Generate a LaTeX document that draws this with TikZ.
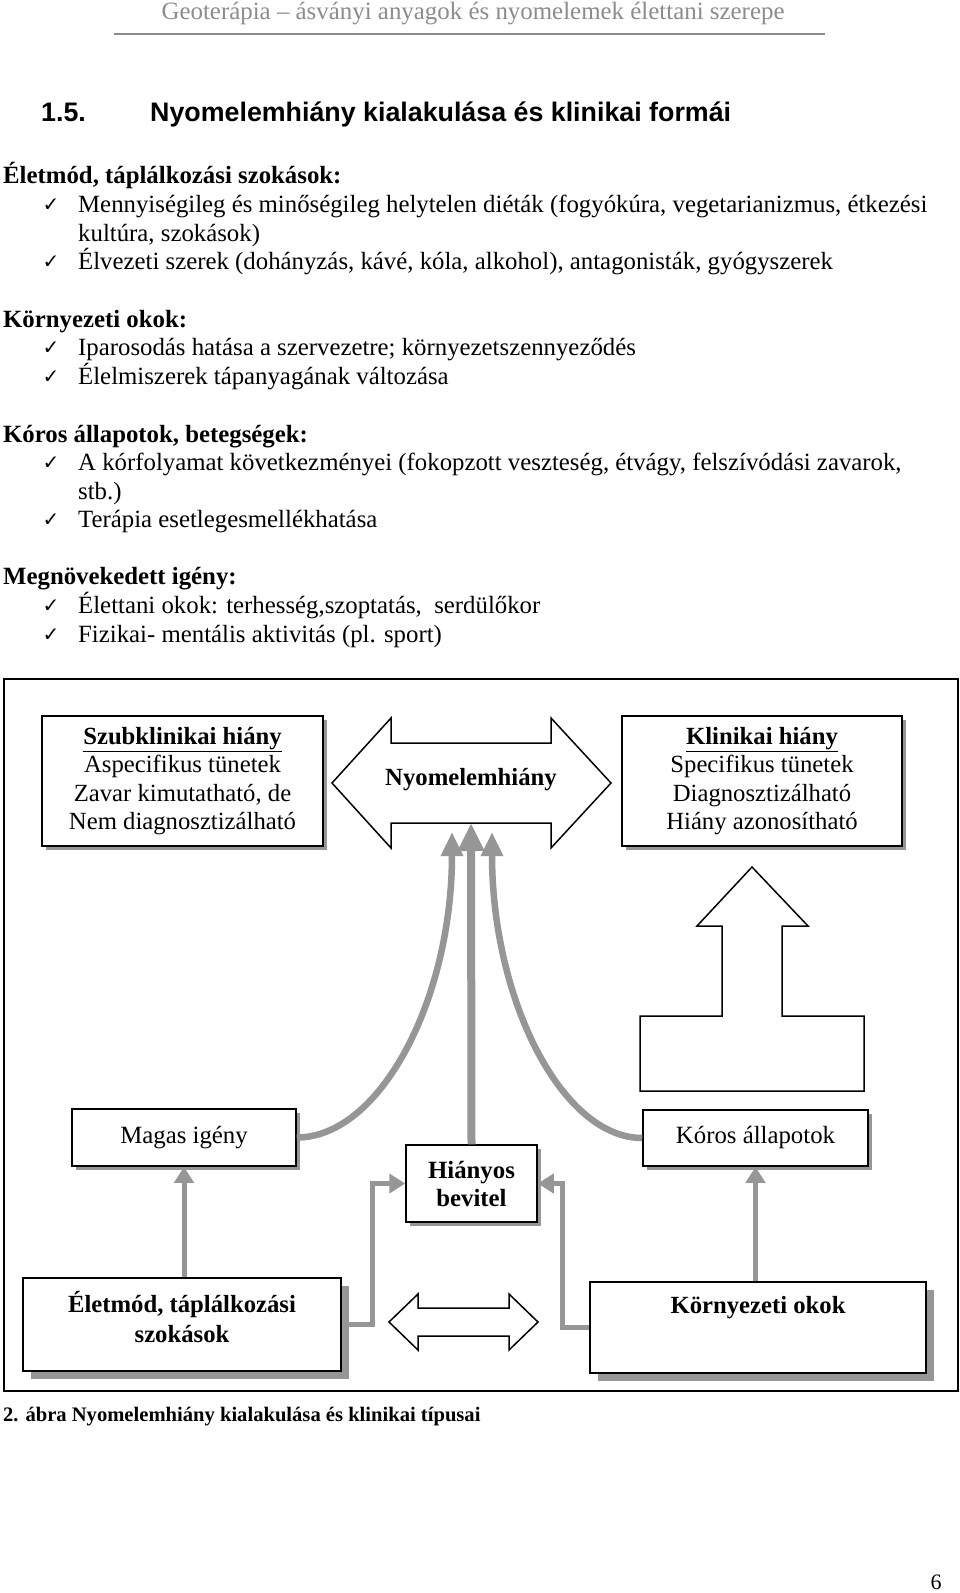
\documentclass[tikz,border=0pt]{standalone}
\usepackage{fontspec}
\setmainfont{Liberation Serif}
\newfontfamily\headfont{Liberation Sans}
\newfontfamily\symfont{DejaVu Sans}
\usepackage{tikz}
\usetikzlibrary{positioning}
\usetikzlibrary{arrows.meta}
\usetikzlibrary{shadows}
\definecolor{linegray}{RGB}{150,150,150}
\definecolor{headgray}{RGB}{140,140,140}

\begin{document}
\begin{tikzpicture}[ x = 1pt, y = -1pt
                     , align = center
                     , font = \fontsize{24.8}{28.5}\selectfont
                     , txt/.style = { anchor = base west, inner sep = 0pt, align = left }
                     , bold/.style = { txt, font = \bfseries\fontsize{24.8}{28.5}\selectfont }
                     , chk/.style = { anchor = base, inner sep = 0pt
                                    , font = \symfont\fontsize{20}{20}\selectfont }
                     ]

  \useasboundingbox (0,0) rectangle (960,1593);
  \fill[white] (0,0) rectangle (960,1593);

  %%
  %% Page text
  %%
  \node (hdr) [inner sep = 0pt, text = headgray, font = \fontsize{24.9}{26}\selectfont]
        at (473,14) {Geoterápia – ásványi anyagok és nyomelemek élettani szerepe};
  \draw[headgray, line width = 2pt] (114,33.5) -- (825,33.5);

  \node (secnum) [txt, font = \headfont\bfseries\fontsize{26.8}{30}\selectfont] at (41,121) {1.5.};
  \node (sectitle) [txt, font = \headfont\bfseries\fontsize{26.8}{30}\selectfont]
        at (150,121) {Nyomelemhiány kialakulása és klinikai formái};

  \node (life) [bold] at (3,183) {Életmód, táplálkozási szokások:};
  \node (lifea) [chk] at (51,211) {✓};
  \node (lifeatxt) [txt] at (78,241) {Mennyiségileg és minőségileg helytelen diéták (fogyókúra, vegetarianizmus, étkezési\\kultúra, szokások)};
  \node (lifeb) [chk] at (51,268) {✓};
  \node (lifebtxt) [txt] at (78,269) {Élvezeti szerek (dohányzás, kávé, kóla, alkohol), antagonisták, gyógyszerek};

  \node (env) [bold] at (3,327) {Környezeti okok:};
  \node (enva) [chk] at (51,354) {✓};
  \node (envatxt) [txt] at (78,355) {Iparosodás hatása a szervezetre; környezetszennyeződés};
  \node (envb) [chk] at (51,383) {✓};
  \node (envbtxt) [txt] at (78,384) {Élelmiszerek tápanyagának változása};

  \node (ill) [bold] at (3,442) {Kóros állapotok, betegségek:};
  \node (illa) [chk] at (51,469) {✓};
  \node (illatxt) [txt] at (78,499) {A kórfolyamat következményei (fokopzott veszteség, étvágy, felszívódási zavarok,\\stb.)};
  \node (illb) [chk] at (51,526) {✓};
  \node (illbtxt) [txt] at (78,527) {Terápia esetlegesmellékhatása};

  \node (need) [bold] at (3,584) {Megnövekedett igény:};
  \node (needa) [chk] at (51,612) {✓};
  \node (needatxt) [txt] at (78,613) {Élettani okok: terhesség,szoptatás,\ \ serdülőkor};
  \node (needb) [chk] at (51,641) {✓};
  \node (needbtxt) [txt] at (78,642) {Fizikai- mentális aktivitás (pl. sport)};

  %%
  %% Diagram
  %%
  \tikzset{ box/.style = { draw, line width = 1.5pt, fill = white, inner sep = 0pt
                         , drop shadow={shadow xshift=4pt,shadow yshift=-4pt,fill=linegray,opacity=1} }
          , bigbox/.style = { draw, line width = 1.5pt, fill = white, inner sep = 0pt
                            , drop shadow={shadow xshift=8pt,shadow yshift=-8pt,fill=linegray,opacity=1} }
          , hollow/.style = { draw, line width = 1.5pt, fill = white, line join = miter }
          , conn/.style = { draw = linegray, line width = 5pt
                          , -{Triangle[width = 19pt, length = 16pt]} }
          , curveconn/.style = { draw = linegray, line width = 6.5pt
                               , -{Triangle[width = 21pt, length = 24pt]} }
          , mainconn/.style = { draw = linegray, line width = 8pt
                              , -{Triangle[width = 25pt, length = 28pt]} }
          }

  \draw[line width = 1.5pt] (4,679) rectangle (958,1391);

  % hollow arrows
  \draw[hollow] (332,783) -- (391,718) -- (391,743) -- (551,743) -- (551,718) -- (611,783)
                -- (551,848) -- (551,823) -- (391,823) -- (391,848) -- cycle;
  \draw[hollow] (752,867) -- (808,926) -- (782,926) -- (782,1016) -- (864,1016) -- (864,1091)
                -- (640,1091) -- (640,1016) -- (722,1016) -- (722,926) -- (697,926) -- cycle;
  \draw[hollow] (389,1322) -- (418,1294) -- (418,1308) -- (509,1308) -- (509,1294) -- (538,1322)
                -- (509,1350) -- (509,1336) -- (418,1336) -- (418,1350) -- cycle;

  \node (nyom) [font = \bfseries\fontsize{24.7}{28.5}\selectfont] at (471,780) {Nyomelemhiány};
  \coordinate (nyoml) at (452,832);
  \coordinate (nyomc) at (471,823);
  \coordinate (nyomr) at (492,832);

  \node (sub) [box, minimum width = 281pt, minimum height = 130pt,
               font = \fontsize{24.7}{28.3}\selectfont] at (182.5,781)
        {\textbf{\underline{Szubklinikai hiány}}\\Aspecifikus tünetek\\Zavar kimutatható, de\\Nem diagnosztizálható};
  \node (klin) [box, minimum width = 280pt, minimum height = 130pt,
                font = \fontsize{24.7}{28.3}\selectfont] at (762,781)
        {\textbf{\underline{Klinikai hiány}}\\Specifikus tünetek\\Diagnosztizálható\\Hiány azonosítható};
  \node (magas) [box, minimum width = 224pt, minimum height = 57pt,
                 font = \fontsize{24.8}{28}\selectfont] at (184,1137.5) {Magas igény};
  \node (hianyos) [box, minimum width = 131pt, minimum height = 77pt,
                   font = \bfseries\fontsize{24.8}{28}\selectfont] at (471.5,1183.5) {Hiányos\\bevitel};
  \node (koros) [box, minimum width = 225pt, minimum height = 56pt,
                 font = \fontsize{24.8}{28}\selectfont] at (755.5,1138) {Kóros állapotok};
  \node (eletmod) [bigbox, minimum width = 318pt, minimum height = 93pt] at (182,1324.5) {};
  \node (eletmodtxt) [font = \bfseries\fontsize{24.7}{30}\selectfont] at (182,1317)
        {Életmód, táplálkozási\\szokások};
  \node (kornyezet) [bigbox, minimum width = 336pt, minimum height = 91pt] at (758,1327.5) {};
  \node (kornyezettxt) [font = \bfseries\fontsize{24.7}{28}\selectfont] at (758,1308) {Környezeti okok};

  % connectors
  \draw[conn] (eletmod.north -| magas.south) -- (magas.south);
  \draw[conn] (eletmod.east) -- ++(31,0) |- (hianyos.west);
  \draw[conn] (kornyezet.west) -- ++(-27,0) |- (hianyos.east);
  \draw[conn] (kornyezet.north -| koros.south) -- (koros.south);
  \draw[curveconn] (magas.east) .. controls (380,1137.5) and (452,1000) .. (nyoml);
  \draw[curveconn] (koros.west) .. controls (562,1138) and (492,1000) .. (nyomr);
  \draw[mainconn] (hianyos.north) -- (nyomc);

  \node (caption) [txt, font = \bfseries\fontsize{20.6}{24}\selectfont] at (3,1421)
        {2. ábra Nyomelemhiány kialakulása és klinikai típusai};
  \node (pagenum) [font = \fontsize{22}{24}\selectfont] at (936,1582) {6};
\end{tikzpicture}
\end{document}
